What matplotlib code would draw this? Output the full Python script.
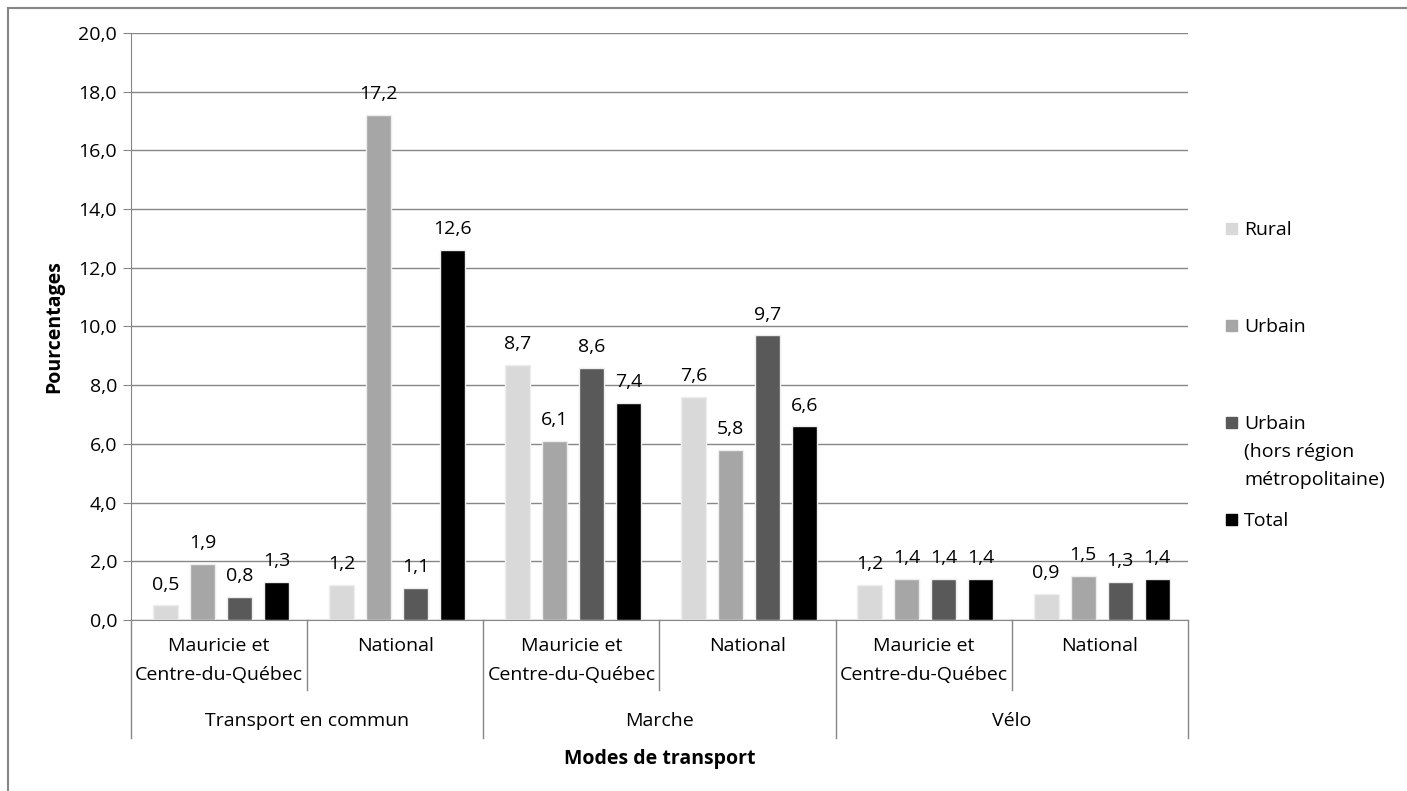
import matplotlib.pyplot as plt
import numpy as np
from matplotlib.transforms import blended_transform_factory
from matplotlib.patches import Rectangle
from matplotlib.lines import Line2D

plt.rcParams['font.family'] = ['Open Sans', 'DejaVu Sans']

# donnees
regions = ['Mauricie et\nCentre-du-Québec', 'National'] * 3
modes = ['Transport en commun', 'Marche', 'Vélo']
series = ['Rural', 'Urbain', 'Urbain\n(hors région\nmétropolitaine)', 'Total']
rural = [0.5, 1.2, 8.7, 7.6, 1.2, 0.9]
urbain = [1.9, 17.2, 6.1, 5.8, 1.4, 1.5]
urbain_hors = [0.8, 1.1, 8.6, 9.7, 1.4, 1.3]
total = [1.3, 12.6, 7.4, 6.6, 1.4, 1.4]
couleurs = ['#d9d9d9', '#a6a6a6', '#595959', '#000000']

fs = 14
fig = plt.figure(figsize=(14.07, 7.91), dpi=100)
ax = fig.add_axes([0.0931, 0.2162, 0.7512, 0.7421])

x = np.arange(len(regions))
decal = [-0.305, -0.095, 0.115, 0.325]
largeur = 0.142
for i, valeurs in enumerate([rural, urbain, urbain_hors, total]):
    barras = ax.bar(x + decal[i], valeurs, largeur, color=couleurs[i],
                    edgecolor='#eeeeee', linewidth=1, zorder=3)
    for b, v in zip(barras, valeurs):
        ax.text(b.get_x() + b.get_width() / 2, v + 0.4, ('%.1f' % v).replace('.', ','),
                ha='center', va='bottom', fontsize=fs)

ax.set_xlim(-0.5, len(regions) - 0.5)
ax.set_ylim(0, 20)
ax.set_yticks(np.arange(0, 21, 2))
ax.set_yticklabels([('%.1f' % t).replace('.', ',') for t in np.arange(0, 21, 2)], fontsize=fs)
ax.yaxis.grid(True, color='#868686', linewidth=1, zorder=0)
ax.set_xticks([])
ax.tick_params(axis='y', length=6, color='#868686', pad=4)
for s in ['top', 'right']:
    ax.spines[s].set_visible(False)
ax.spines['left'].set_color('#868686')
ax.spines['bottom'].set_color('#868686')
ax.set_ylabel('Pourcentages', fontsize=fs, fontweight='bold', labelpad=10)

# etiquettes sur deux niveaux
tr = blended_transform_factory(ax.transData, ax.transAxes)
for i, r in enumerate(regions):
    ax.text(i, -0.029, r, transform=tr, ha='center', va='top', fontsize=fs, linespacing=1.75)
for i, m in enumerate(modes):
    ax.text(2 * i + 0.5, -0.157, m, transform=tr, ha='center', va='top', fontsize=fs)
for k in range(len(regions) + 1):
    bas = -0.119 if k % 2 else -0.201
    ax.add_line(Line2D([k - 0.5, k - 0.5], [0, bas], transform=tr, color='#868686',
                       linewidth=1, clip_on=False))
ax.text(2.5, -0.219, 'Modes de transport', transform=tr, ha='center', va='top',
        fontsize=fs, fontweight='bold')

# legende
ly = [228, 325, 422, 519]
for i, s in enumerate(series):
    yf = 1 - ly[i] / 791.0
    fig.patches.append(Rectangle((1226 / 1407.0, yf - 5.5 / 791.0), 11 / 1407.0, 11 / 791.0,
                                 transform=fig.transFigure, color=couleurs[i]))
    for j, ligne in enumerate(s.split('\n')):
        fig.text(1244 / 1407.0, yf - j * 28 / 791.0, ligne, ha='left', va='center_baseline',
                 fontsize=fs)

# cadre
fig.add_artist(Line2D([8 / 1407.0, 8 / 1407.0], [0, 1 - 8 / 791.0], transform=fig.transFigure,
                      color='#868686', linewidth=1.5))
fig.add_artist(Line2D([8 / 1407.0, 1], [1 - 8 / 791.0, 1 - 8 / 791.0], transform=fig.transFigure,
                      color='#868686', linewidth=1.5))

plt.savefig('out.png', dpi=100)
